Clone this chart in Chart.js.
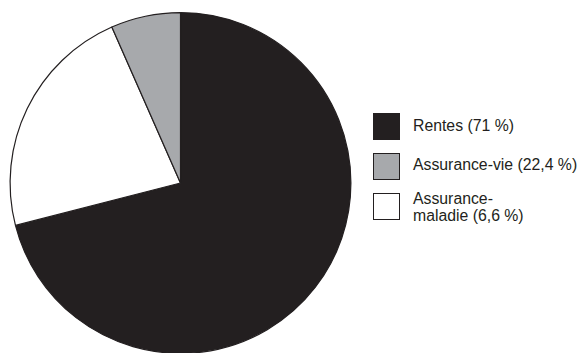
<!DOCTYPE html>
<html lang="fr">
<head>
<meta charset="utf-8">
<script src="https://cdn.jsdelivr.net/npm/chart.js@4/dist/chart.umd.min.js"></script>
<style>
    html, body { margin: 0; padding: 0; background: #fff; overflow: hidden; }
    body { width: 581px; height: 353px; position: relative; font-family: "Liberation Sans", Arial, Helvetica, sans-serif; }
    #pieWrap { position: absolute; left: 0; top: 0; width: 362px; height: 366px; }
    .lg-box { position: absolute; left: 373px; width: 27px; height: 27px; box-sizing: border-box; border: 1.5px solid #231f20; }
    .lg-text { position: absolute; left: 413px; font-size: 15.8px; line-height: 16.5px; color: #231f20; white-space: nowrap; }
</style>
</head>
<body>
<div id="pieWrap"><canvas id="pie" width="362" height="366"></canvas></div>
<div id="legend"></div>
<script>
// valeurs
const labels = ['Rentes (71 %)', 'Assurance-vie (22,4 %)', 'Assurance-\nmaladie (6,6 %)'];
const values = [71, 22.4, 6.6];
const sliceColors = ['#231f20', '#ffffff', '#a7a9ac'];
const legendColors = ['#231f20', '#a7a9ac', '#ffffff'];

document.addEventListener('DOMContentLoaded', () => {
    // légende en HTML, colonne à droite du camembert
    const legendRoot = document.getElementById('legend');
    const boxTops = [113, 153, 193];
    const textTops = [118.3, 157.3, 191.3];
    legendRoot.innerHTML = labels.map((l, i) => `
        <div class="lg-box" style="top:${boxTops[i]}px;background:${legendColors[i]}"></div>
        <div class="lg-text" style="top:${textTops[i]}px">${l.split('\n').join('<br>')}</div>`).join('');

    new Chart(document.getElementById('pie'), {
        type: 'pie',
        data: {
            labels: labels.map((l) => l.replace('\n', '')),
            datasets: [{
                data: values,
                backgroundColor: sliceColors,
                borderColor: '#231f20',
                borderWidth: 1.2,
            }],
        },
        options: {
            responsive: false,
            animation: false,
            layout: { padding: { left: 9, right: 10, top: 12, bottom: 12 } },
            plugins: { legend: { display: false }, tooltip: { enabled: false } },
        },
    });
});
</script>
</body>
</html>
